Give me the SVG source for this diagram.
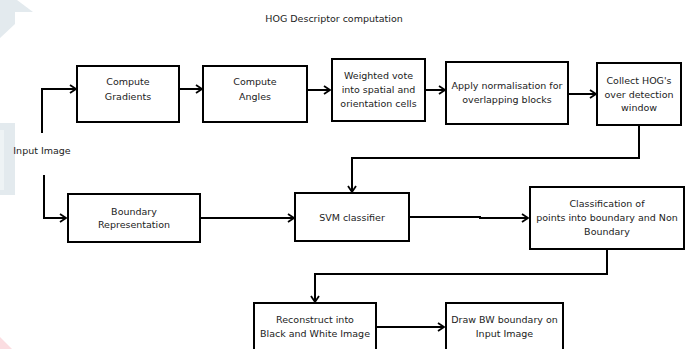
<svg xmlns="http://www.w3.org/2000/svg" width="692" height="349" viewBox="0 0 692 349">
<style>
.box{fill:#fff;stroke:#000;stroke-width:2}
.t{font-family:"DejaVu Sans",sans-serif;font-size:9.5px;fill:#222;text-anchor:middle}
.c{fill:none;stroke:#000;stroke-width:2}
</style>
<defs>
<marker id="ah" markerWidth="10" markerHeight="10" refX="8" refY="5" orient="auto" markerUnits="userSpaceOnUse">
<path d="M2,1 L8,5 L2,9" fill="none" stroke="#000" stroke-width="1.8"/>
</marker>
</defs>
<rect width="692" height="349" fill="#fff"/>
<g id="watermark">
<polygon points="0,0 17,0 33,12 15,12 15,24 0,38" fill="#e3eaee"/>
<rect x="0" y="123" width="15" height="72" fill="#e3eaee"/>
<rect x="0" y="130" width="4" height="60" fill="#eef3f5"/>
<polygon points="0,337 12,349 0,349" fill="#fbdde1"/>
</g>
<text class="t" x="334" y="22">HOG Descriptor computation</text>
<g id="connectors">
<path class="c" d="M42,133 V89 H76" marker-end="url(#ah)"/>
<path class="c" d="M179,89 H202" marker-end="url(#ah)"/>
<path class="c" d="M307,90 H330" marker-end="url(#ah)"/>
<path class="c" d="M425,90 H445" marker-end="url(#ah)"/>
<path class="c" d="M568,94 H596" marker-end="url(#ah)"/>
<path class="c" d="M639,125 V158 H352 V192" marker-end="url(#ah)"/>
<path class="c" d="M44,175 V218 H66" marker-end="url(#ah)"/>
<path class="c" d="M200,218 H294" marker-end="url(#ah)"/>
<path class="c" d="M409,217 H480 V218 H528" marker-end="url(#ah)"/>
<path class="c" d="M607,249 V274 H315 V302" marker-end="url(#ah)"/>
<path class="c" d="M376,327 H444" marker-end="url(#ah)"/>
</g>
<g id="input"><text class="t" x="42" y="154">Input Image</text></g>
<g id="gradients"><rect class="box" x="77" y="66" width="102" height="56"/><text class="t" x="128" y="85">Compute</text><text class="t" x="128" y="100">Gradients</text></g>
<g id="angles"><rect class="box" x="203" y="66" width="104" height="56"/><text class="t" x="255" y="85">Compute</text><text class="t" x="255" y="100">Angles</text></g>
<g id="vote"><rect class="box" x="332" y="59" width="93" height="62"/><text class="t" x="378.5" y="79">Weighted vote</text><text class="t" x="378.5" y="93">into spatial and</text><text class="t" x="378.5" y="107">orientation cells</text></g>
<g id="normalise"><rect class="box" x="446" y="62" width="122" height="62"/><text class="t" x="507" y="89">Apply normalisation for</text><text class="t" x="507" y="103">overlapping blocks</text></g>
<g id="collect"><rect class="box" x="597" y="63" width="84" height="62"/><text class="t" x="639" y="84">Collect HOG's</text><text class="t" x="639" y="97.5">over detection</text><text class="t" x="639" y="111">window</text></g>
<g id="boundary"><rect class="box" x="68" y="194" width="132" height="48"/><text class="t" x="134" y="215">Boundary</text><text class="t" x="134" y="228">Representation</text></g>
<g id="svm"><rect class="box" x="295" y="193" width="114" height="48"/><text class="t" x="352" y="221">SVM classifier</text></g>
<g id="classification"><rect class="box" x="530" y="187" width="154" height="62"/><text class="t" x="607" y="207">Classification of</text><text class="t" x="607" y="221">points into boundary and Non</text><text class="t" x="607" y="235">Boundary</text></g>
<g id="reconstruct"><rect class="box" x="254" y="303" width="122" height="60"/><text class="t" x="315" y="323">Reconstruct into</text><text class="t" x="315" y="337">Black and White Image</text></g>
<g id="draw"><rect class="box" x="446" y="303" width="117" height="60"/><text class="t" x="504.5" y="323">Draw BW boundary on</text><text class="t" x="504.5" y="337">Input Image</text></g>
</svg>
